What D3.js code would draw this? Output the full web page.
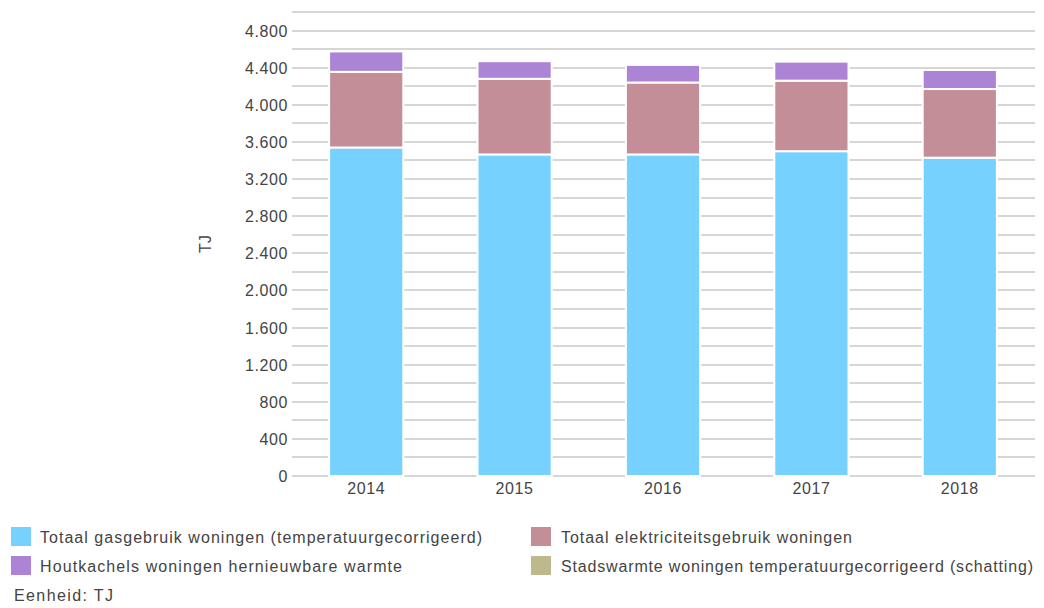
<!DOCTYPE html>
<html>
<head>
<meta charset="utf-8">
<script src="https://cdn.jsdelivr.net/npm/d3@7"></script>
<style>
  body { margin: 0; background: #fff; }
  text { font-family: Arial, "Liberation Sans", sans-serif; fill: #444; }
</style>
</head>
<body>
<div id="chart"></div>
<script>
// data (TJ)
const years = ["2014", "2015", "2016", "2017", "2018"];
const gas = [3540, 3465, 3465, 3500, 3430];
const elektriciteit = [815, 815, 775, 760, 740];
const houtkachels = [220, 190, 190, 205, 205];
const stadswarmte = [0, 0, 0, 0, 0];

const seriesNames = [
    "Totaal gasgebruik woningen (temperatuurgecorrigeerd)",
    "Totaal elektriciteitsgebruik woningen",
    "Houtkachels woningen hernieuwbare warmte",
    "Stadswarmte woningen temperatuurgecorrigeerd (schatting)"
];
const seriesColors = ["#77d1ff", "#c48e99", "#ac84d6", "#bdb98c"];
const yTicks = [0, 400, 800, 1200, 1600, 2000, 2400, 2800, 3200, 3600, 4000, 4400, 4800];

const width = 1044, height = 608;
const margin = { left: 292, right: 10, top: 12, bottom: 132 };

const svg = d3.select("#chart")
    .append("svg")
    .attr("width", width)
    .attr("height", height);

const x = d3.scaleBand()
    .domain(years)
    .range([margin.left, 1034])
    .paddingInner(0.5)
    .paddingOuter(0.25);

const y = d3.scaleLinear()
    .domain([0, 5000])
    .range([476, margin.top]);

// gridlines every 200
svg.append("g")
    .selectAll("line")
    .data(d3.range(0, 5001, 200))
    .enter()
    .append("line")
    .attr("x1", margin.left)
    .attr("x2", 1035)
    .attr("y1", d => Math.round(y(d)))
    .attr("y2", d => Math.round(y(d)))
    .attr("stroke", "#d6d6d6")
    .attr("stroke-width", 2);

// y labels
const fmt = d3.formatLocale({ decimal: ",", thousands: ".", grouping: [3], currency: ["", ""] }).format(",");
svg.append("g")
    .selectAll("text")
    .data(yTicks)
    .enter()
    .append("text")
    .attr("x", 288)
    .attr("y", d => y(d) + 6)
    .attr("text-anchor", "end")
    .attr("font-size", "16px")
    .attr("letter-spacing", "0.6px")
    .text(d => fmt(d));

svg.append("text")
    .attr("transform", "translate(211,244) rotate(-90)")
    .attr("text-anchor", "middle")
    .attr("font-size", "16px")
    .text("TJ");

// stacked bars
const rows = years.map((yr, i) => ({
    year: yr, s0: gas[i], s1: elektriciteit[i], s2: houtkachels[i], s3: stadswarmte[i]
}));
const stack = d3.stack().keys(["s0", "s1", "s2", "s3"]);
const layers = stack(rows);

svg.append("g")
    .selectAll("g")
    .data(layers)
    .enter()
    .append("g")
    .attr("fill", (d, i) => seriesColors[i])
    .selectAll("rect")
    .data(d => d.filter(p => p[1] > p[0]))
    .enter()
    .append("rect")
    .attr("x", d => x(d.data.year))
    .attr("width", x.bandwidth())
    .attr("y", d => y(d[1]))
    .attr("height", d => y(d[0]) - y(d[1]))
    .attr("stroke", "#fff")
    .attr("stroke-width", 2);

// x labels
svg.append("g")
    .selectAll("text")
    .data(years)
    .enter()
    .append("text")
    .attr("x", d => x(d) + x.bandwidth() / 2)
    .attr("y", 494)
    .attr("text-anchor", "middle")
    .attr("font-size", "16px")
    .attr("letter-spacing", "0.6px")
    .text(d => d);

// legend
const legendPos = [
    { x: 11, y: 527, tx: 40, tw: 442 },
    { x: 531, y: 527, tx: 561, tw: 291 },
    { x: 11, y: 556, tx: 40, tw: 362 },
    { x: 531, y: 556, tx: 561, tw: 472 }
];
const legend = svg.append("g");
seriesNames.forEach((name, i) => {
    const p = legendPos[i];
    legend.append("rect")
        .attr("x", p.x)
        .attr("y", p.y)
        .attr("width", 20)
        .attr("height", 19)
        .attr("fill", seriesColors[i]);
    legend.append("text")
        .attr("x", p.tx)
        .attr("y", p.y + 16)
        .attr("font-size", "16px")
        .attr("textLength", p.tw)
        .attr("lengthAdjust", "spacing")
        .text(name);
});

svg.append("text")
    .attr("x", 14)
    .attr("y", 601)
    .attr("font-size", "16px")
    .attr("textLength", 99)
    .attr("lengthAdjust", "spacing")
    .text("Eenheid: TJ");
</script>
</body>
</html>
